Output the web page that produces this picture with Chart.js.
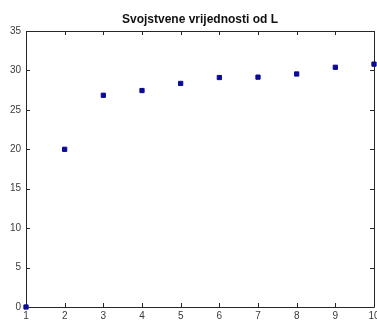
<!DOCTYPE html>
<html>
<head>
<meta charset="utf-8">
<script src="https://cdn.jsdelivr.net/npm/chart.js@4"></script>
<style>
  html, body { margin: 0; padding: 0; background: #fff; overflow: hidden; }
  #wrap { width: 400px; height: 322px; }
</style>
</head>
<body>
<div id="wrap"><canvas id="c" width="400" height="322"></canvas></div>
<script>
// Eigenvalue index and value
const indices = [1, 2, 3, 4, 5, 6, 7, 8, 9, 10];
const eigenvalues = [0, 20.0, 26.85, 27.45, 28.35, 29.1, 29.15, 29.55, 30.4, 30.8];
const xTicks = [1, 2, 3, 4, 5, 6, 7, 8, 9, 10];
const yTicks = [0, 5, 10, 15, 20, 25, 30, 35];

const axisColor = '#262626';
const labelColor = '#3a3a3a';
const fontFamily = '"Liberation Sans", Arial, Helvetica, sans-serif';

// Box around the axes with inward tick marks on all four sides
const boxTicks = {
  id: 'boxTicks',
  beforeDatasetsDraw(chart) {
    const { ctx, chartArea: a, scales } = chart;
    const len = 4;
    ctx.save();
    ctx.strokeStyle = axisColor;
    ctx.lineWidth = 1;
    ctx.beginPath();
    ctx.rect(Math.round(a.left) + 0.5, Math.round(a.top) + 0.5,
             Math.round(a.right - a.left), Math.round(a.bottom - a.top));
    xTicks.forEach(v => {
      const x = Math.round(scales.x.getPixelForValue(v)) + 0.5;
      ctx.moveTo(x, a.bottom); ctx.lineTo(x, a.bottom - len);
      ctx.moveTo(x, a.top); ctx.lineTo(x, a.top + len);
    });
    yTicks.forEach(v => {
      const y = Math.round(scales.y.getPixelForValue(v)) + 0.5;
      ctx.moveTo(a.left, y); ctx.lineTo(a.left + len, y);
      ctx.moveTo(a.right, y); ctx.lineTo(a.right - len, y);
    });
    ctx.stroke();
    ctx.restore();
  }
};

new Chart(document.getElementById('c'), {
  type: 'scatter',
  data: {
    datasets: [{
      data: indices.map((x, i) => ({ x, y: eigenvalues[i] })),
      pointStyle: 'rect',
      pointRadius: 3,
      pointBorderWidth: 1,
      backgroundColor: '#0a0a96',
      borderColor: '#0a0a96',
      clip: false
    }]
  },
  options: {
    responsive: false,
    animation: false,
    layout: { padding: { left: 0, right: 26, top: 0, bottom: 0 } },
    plugins: {
      legend: { display: false },
      tooltip: { enabled: false },
      title: {
        display: true,
        fullSize: false,
        text: 'Svojstvene vrijednosti od L',
        color: '#111',
        font: { family: fontFamily, size: 12, weight: 'bold' },
        padding: { top: 12, bottom: 4.6 }
      }
    },
    scales: {
      x: {
        type: 'linear',
        min: 1, max: 10,
        afterBuildTicks: s => { s.ticks = xTicks.map(v => ({ value: v })); },
        afterFit: s => { s.height = 15; },
        grid: { display: false, drawTicks: false },
        border: { display: false },
        ticks: { color: labelColor, padding: 3, font: { family: fontFamily, size: 10 } }
      },
      y: {
        min: 0, max: 35,
        afterBuildTicks: s => { s.ticks = yTicks.map(v => ({ value: v })); },
        afterFit: s => { s.width = 26; },
        grid: { display: false, drawTicks: false },
        border: { display: false },
        ticks: { color: labelColor, padding: 5, font: { family: fontFamily, size: 10 } }
      }
    }
  },
  plugins: [boxTicks]
});
</script>
</body>
</html>
